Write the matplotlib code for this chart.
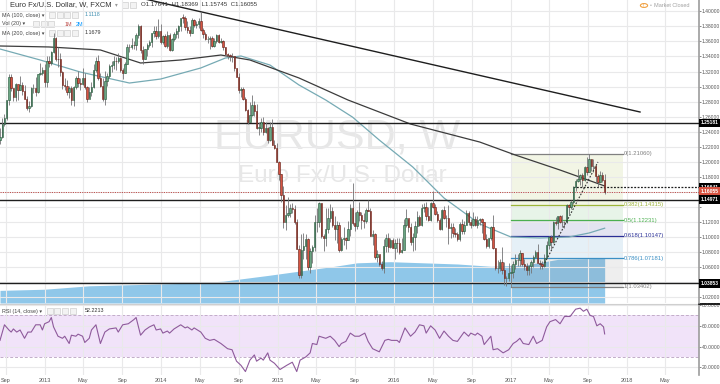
import numpy as np
import pandas as pd
import matplotlib
matplotlib.use("Agg")
import matplotlib.pyplot as plt
import matplotlib.dates as mdates
import matplotlib.transforms as mtransforms
from matplotlib.patches import Rectangle, Circle

W, H = 720, 384
plt.rcParams["font.family"] = ["Liberation Sans", "DejaVu Sans"]

# weekly EUR/USD candles (FXCM), first bar = week of 2012-08-13
first_open = 1.2290
closes = [
    # 2012
    1.2333, 1.2507, 1.2576, 1.2815, 1.3127, 1.2978, 1.2859, 1.3038, 1.2954, 1.3024, 1.2940,
    1.2832, 1.2713, 1.2742, 1.2975, 1.2985, 1.2929, 1.3163, 1.3183, 1.3215, 1.3067,
    # 2013
    1.3343, 1.3317, 1.3459, 1.3640, 1.3364, 1.3362, 1.3190, 1.3020, 1.3008, 1.2933, 1.2987, 1.2817,
    1.2993, 1.3112, 1.3053, 1.3030, 1.3114, 1.2990, 1.2837, 1.2933, 1.2998, 1.3220, 1.3345, 1.3120,
    1.3010, 1.2832, 1.3068, 1.3141, 1.3279, 1.3280, 1.3343, 1.3338, 1.3379, 1.3221, 1.3182, 1.3296,
    1.3524, 1.3522, 1.3555, 1.3552, 1.3685, 1.3804, 1.3486, 1.3365, 1.3494, 1.3555, 1.3589, 1.3707,
    1.3741, 1.3672, 1.3742, 1.3589,
    # 2014
    1.3666, 1.3539, 1.3679, 1.3486, 1.3633, 1.3692, 1.3740, 1.3806, 1.3914, 1.3913, 1.3790, 1.3751,
    1.3705, 1.3888, 1.3813, 1.3831, 1.3870, 1.3754, 1.3700, 1.3630, 1.3633, 1.3640, 1.3544, 1.3607,
    1.3690, 1.3594, 1.3605, 1.3523, 1.3428, 1.3414, 1.3411, 1.3400, 1.3241, 1.3131, 1.2952, 1.2964,
    1.2831, 1.2685, 1.2523, 1.2627, 1.2761, 1.2670, 1.2452, 1.2454, 1.2525, 1.2392, 1.2451, 1.2288,
    1.2464, 1.2227, 1.2180, 1.2002,
    # 2015
    1.1842, 1.1565, 1.1204, 1.1290, 1.1317, 1.1387, 1.1377, 1.1194, 1.0843, 1.0496, 1.0822, 1.0888,
    1.0970, 1.0600, 1.0809, 1.0873, 1.1199, 1.1200, 1.1447, 1.1016, 1.0985, 1.1110, 1.1260, 1.1349,
    1.1164, 1.1108, 1.1159, 1.0826, 1.0979, 1.0983, 1.0965, 1.1104, 1.1386, 1.1185, 1.1150, 1.1337,
    1.1293, 1.1230, 1.1210, 1.1356, 1.1350, 1.1015, 1.1045, 1.0740, 1.0770, 1.0646, 1.0593, 1.0886,
    1.0990, 1.0868, 1.0963, 1.0860,
    # 2016
    1.0920, 1.0915, 1.0797, 1.0831, 1.1155, 1.1256, 1.1130, 1.0933, 1.1005, 1.1152, 1.1268, 1.1166,
    1.1390, 1.1400, 1.1286, 1.1223, 1.1453, 1.1405, 1.1310, 1.1222, 1.1113, 1.1365, 1.1250, 1.1258,
    1.1114, 1.1135, 1.1050, 1.1040, 1.0978, 1.1175, 1.1087, 1.1160, 1.1325, 1.1200, 1.1155, 1.1235,
    1.1155, 1.1225, 1.1240, 1.1200, 1.0970, 1.0885, 1.0985, 1.1140, 1.0850, 1.0588, 1.0590, 1.0665,
    1.0560, 1.0450, 1.0455, 1.0520,
    # 2017
    1.0530, 1.0640, 1.0700, 1.0695, 1.0785, 1.0640, 1.0615, 1.0560, 1.0620, 1.0670, 1.0740, 1.0800,
    1.0655, 1.0640, 1.0615, 1.0725, 1.0895, 1.0995, 1.0935, 1.1205, 1.1185, 1.1280, 1.1200, 1.1200,
    1.1195, 1.1425, 1.1400, 1.1470, 1.1665, 1.1750, 1.1775, 1.1820, 1.1760, 1.1925, 1.1860, 1.2035,
    1.1945, 1.1950, 1.1815, 1.1730, 1.1820, 1.1764, 1.16055,
]
highs = [
    1.2443, 1.2588, 1.2636, 1.2823, 1.3169, 1.3173, 1.2980, 1.3046, 1.3014, 1.3138, 1.3061,
    1.3022, 1.2877, 1.2810, 1.2990, 1.3029, 1.3127, 1.3166, 1.3308, 1.3255, 1.3298,
    1.3404, 1.3405, 1.3479, 1.3711, 1.3652, 1.3523, 1.3440, 1.3210, 1.3114, 1.3093, 1.3002, 1.3010,
    1.3002, 1.3144, 1.3202, 1.3108, 1.3243, 1.3176, 1.3002, 1.2998, 1.3062, 1.3306, 1.3390, 1.3418,
    1.3185, 1.3117, 1.3208, 1.3176, 1.3298, 1.3345, 1.3401, 1.3392, 1.3452, 1.3394, 1.3246, 1.3326,
    1.3569, 1.3568, 1.3646, 1.3610, 1.3705, 1.3832, 1.3813, 1.3543, 1.3500, 1.3578, 1.3621, 1.3710,
    1.3810, 1.3811, 1.3893, 1.3829,
    1.3687, 1.3701, 1.3740, 1.3710, 1.3645, 1.3719, 1.3774, 1.3824, 1.3915, 1.3967, 1.3932, 1.3876,
    1.3810, 1.3905, 1.3899, 1.3874, 1.3907, 1.3993, 1.3777, 1.3730, 1.3675, 1.3677, 1.3677, 1.3644,
    1.3702, 1.3700, 1.3649, 1.3615, 1.3531, 1.3445, 1.3437, 1.3447, 1.3409, 1.3245, 1.3174, 1.2994,
    1.2996, 1.2859, 1.2705, 1.2791, 1.2887, 1.2802, 1.2770, 1.2535, 1.2577, 1.2601, 1.2532, 1.2457,
    1.2531, 1.2570, 1.2287, 1.2250,
    1.2010, 1.1843, 1.1680, 1.1423, 1.1534, 1.1443, 1.1449, 1.1428, 1.1240, 1.0890, 1.1043, 1.1052,
    1.1036, 1.0986, 1.0849, 1.0898, 1.1290, 1.1392, 1.1467, 1.1447, 1.1042, 1.1380, 1.1386, 1.1436,
    1.1400, 1.1278, 1.1215, 1.1200, 1.0999, 1.1128, 1.1000, 1.1215, 1.1440, 1.1714, 1.1332, 1.1355,
    1.1460, 1.1330, 1.1318, 1.1387, 1.1495, 1.1385, 1.1096, 1.1060, 1.0830, 1.0761, 1.0686, 1.0981,
    1.1043, 1.1059, 1.0990, 1.0993,
    1.0970, 1.0994, 1.0985, 1.0983, 1.1245, 1.1376, 1.1243, 1.1186, 1.1058, 1.1218, 1.1342, 1.1300,
    1.1438, 1.1453, 1.1464, 1.1398, 1.1463, 1.1616, 1.1445, 1.1350, 1.1250, 1.1375, 1.1416, 1.1298,
    1.1427, 1.1186, 1.1187, 1.1120, 1.1070, 1.1199, 1.1234, 1.1213, 1.1366, 1.1341, 1.1240, 1.1327,
    1.1286, 1.1283, 1.1260, 1.1260, 1.1205, 1.1040, 1.0990, 1.1145, 1.1300, 1.0860, 1.0690, 1.0710,
    1.0873, 1.0670, 1.0480, 1.0652,
    1.0625, 1.0684, 1.0775, 1.0777, 1.0829, 1.0789, 1.0705, 1.0660, 1.0625, 1.0700, 1.0760, 1.0830,
    1.0906, 1.0690, 1.0680, 1.0778, 1.0950, 1.1020, 1.1024, 1.1210, 1.1268, 1.1285, 1.1296, 1.1296,
    1.1220, 1.1445, 1.1445, 1.1490, 1.1680, 1.1776, 1.1910, 1.1840, 1.1850, 1.1940, 1.2070, 1.2106,
    1.2036, 1.2035, 1.1960, 1.1834, 1.1880, 1.1860, 1.18369,
]
lows = [
    1.2240, 1.2322, 1.2481, 1.2550, 1.2755, 1.2936, 1.2802, 1.2814, 1.2828, 1.2950, 1.2883,
    1.2830, 1.2690, 1.2660, 1.2735, 1.2915, 1.2877, 1.2915, 1.3155, 1.3158, 1.2998,
    1.3000, 1.3256, 1.3280, 1.3447, 1.3345, 1.3265, 1.3145, 1.2968, 1.2955, 1.2882, 1.2842, 1.2750,
    1.2745, 1.2963, 1.2996, 1.2955, 1.3020, 1.2963, 1.2797, 1.2845, 1.2868, 1.2986, 1.3200, 1.3085,
    1.2992, 1.2810, 1.2755, 1.3007, 1.3120, 1.3188, 1.3230, 1.3224, 1.3311, 1.3197, 1.3105, 1.3177,
    1.3297, 1.3465, 1.3499, 1.3496, 1.3486, 1.3646, 1.3444, 1.3296, 1.3369, 1.3400, 1.3526, 1.3528,
    1.3664, 1.3626, 1.3651, 1.3572,
    1.3572, 1.3524, 1.3507, 1.3478, 1.3477, 1.3600, 1.3642, 1.3641, 1.3736, 1.3838, 1.3751, 1.3705,
    1.3673, 1.3706, 1.3791, 1.3775, 1.3772, 1.3742, 1.3647, 1.3616, 1.3585, 1.3503, 1.3522, 1.3524,
    1.3585, 1.3585, 1.3578, 1.3480, 1.3421, 1.3366, 1.3333, 1.3332, 1.3212, 1.3130, 1.2919, 1.2859,
    1.2815, 1.2680, 1.2500, 1.2601, 1.2611, 1.2614, 1.2440, 1.2358, 1.2395, 1.2358, 1.2385, 1.2247,
    1.2271, 1.2220, 1.2165, 1.2000,
    1.1754, 1.1460, 1.1114, 1.1098, 1.1270, 1.1261, 1.1316, 1.1175, 1.0838, 1.0462, 1.0462, 1.0713,
    1.0712, 1.0564, 1.0520, 1.0659, 1.0820, 1.1063, 1.1135, 1.0990, 1.0819, 1.0887, 1.1049, 1.1206,
    1.1133, 1.0955, 1.0916, 1.0808, 1.0809, 1.0898, 1.0848, 1.0955, 1.1017, 1.1158, 1.1087, 1.1103,
    1.1208, 1.1105, 1.1122, 1.1188, 1.1340, 1.1008, 1.0896, 1.0705, 1.0674, 1.0617, 1.0557, 1.0524,
    1.0796, 1.0805, 1.0850, 1.0854,
    1.0711, 1.0804, 1.0778, 1.0790, 1.0831, 1.1136, 1.1067, 1.0896, 1.0810, 1.0822, 1.1056, 1.1143,
    1.1144, 1.1327, 1.1233, 1.1216, 1.1218, 1.1383, 1.1290, 1.1196, 1.1097, 1.1098, 1.1238, 1.1131,
    1.0912, 1.0987, 1.0998, 1.1001, 1.0952, 1.0952, 1.1045, 1.1043, 1.1155, 1.1160, 1.1122, 1.1146,
    1.1145, 1.1124, 1.1160, 1.1050, 1.0966, 1.0860, 1.0850, 1.0960, 1.0840, 1.0569, 1.0518, 1.0548,
    1.0505, 1.0366, 1.0352, 1.0420,
    1.0340, 1.0453, 1.0579, 1.0622, 1.0618, 1.0620, 1.0567, 1.0494, 1.0494, 1.0525, 1.0600, 1.0730,
    1.0650, 1.0570, 1.0570, 1.0600, 1.0720, 1.0840, 1.0838, 1.0920, 1.1160, 1.1110, 1.1190, 1.1130,
    1.1120, 1.1190, 1.1312, 1.1370, 1.1440, 1.1612, 1.1730, 1.1688, 1.1660, 1.1740, 1.1823, 1.1860,
    1.1880, 1.1860, 1.1717, 1.1669, 1.1730, 1.1730, 1.15745,
]

# moving averages (week index, price)
ma100_weeks = [0, 18, 36, 58, 72, 90, 101, 108, 121, 134, 146, 158, 170, 185, 199, 215, 229, 242, 255, 264, 271]
ma100_vals = [1.3499, 1.3353, 1.3193, 1.3047, 1.3100, 1.3247, 1.3379, 1.3406, 1.3286, 1.3021, 1.2821,
              1.2594, 1.2289, 1.1931, 1.1519, 1.1174, 1.1001, 1.0988, 1.1001, 1.1054, 1.1118]
ma200_weeks = [0, 22, 45, 63, 81, 99, 112, 134, 156, 184, 215, 231, 251, 271]
ma200_vals = [1.3539, 1.3526, 1.3486, 1.3313, 1.3353, 1.3419, 1.3353, 1.3114, 1.2821, 1.2502, 1.2263,
              1.2090, 1.1891, 1.1679]

# volume moving average (millions)
vol_ma_weeks = [0, 20, 40, 60, 80, 100, 120, 135, 150, 160, 175, 190, 205, 220, 235, 250, 271]
vol_ma_vals = [0.55, 0.6, 0.75, 0.8, 0.85, 0.95, 1.2, 1.4, 1.6, 1.75, 1.8, 1.75, 1.7, 1.6, 1.65, 1.9, 1.95]

# RSI(14)
rsi_weeks = [0, 2, 4, 5, 6, 7.5, 9, 11, 12.5, 14,
             16, 18, 19, 20, 22, 23, 24, 26, 28, 29,
             31, 32, 34, 35, 37, 38, 40, 41, 43, 45,
             47, 49, 52, 53, 55, 57.5, 60, 61, 63, 65,
             67, 69, 70, 72, 73, 75, 76, 78, 81, 83,
             84, 86, 87, 90, 92, 94, 96, 99, 102, 104,
             106, 108, 110, 112, 114, 115, 117, 118, 120, 121,
             123, 125.5, 128.5, 131, 133, 134.5, 137, 139, 140, 142,
             143, 146, 148, 150, 152, 153, 155, 157, 159, 161,
             163.5, 165, 167, 170, 172.5, 174, 175.5, 178, 179, 181.5,
             184, 186, 188, 190, 191, 193, 195, 197, 199, 201,
             203, 205, 207, 208, 210, 211, 213, 214, 216, 217,
             220, 221, 223, 225.5, 228, 230, 231.5, 233, 234.5, 237,
             239, 240.5, 243, 245, 246.5, 249, 251, 253, 255.5, 258,
             260, 261.5, 263, 264.5, 266, 267.5, 269, 270.5, 271]
rsi_vals = [46, 61, 56, 54, 57, 54, 56, 48, 54, 54,
            61, 61, 56, 62, 64, 68, 59, 50, 48, 50,
            43, 51, 50, 52, 50, 44, 48, 56, 61, 43,
            54, 57, 58, 54, 61, 62, 66, 68, 51, 56,
            59, 61, 56, 57, 53, 55, 53, 57, 61, 58,
            59, 56, 58, 54, 48, 46, 47, 43, 38, 37,
            26, 22, 16, 27, 32, 26, 29, 27, 34, 27,
            24, 18, 22, 25, 16, 27, 30, 34, 43, 42,
            50, 48, 50, 46, 40, 43, 45, 53, 50, 50,
            53, 45, 38, 35, 46, 47, 46, 46, 44, 58,
            50, 54, 61, 60, 53, 60, 56, 48, 55, 50,
            46, 45, 51, 54, 50, 53, 51, 53, 50, 42,
            50, 37, 38, 34, 37, 43, 45, 48, 43, 42,
            50, 43, 46, 59, 64, 66, 62, 69, 69, 76,
            77, 74, 76, 70, 69, 60, 62, 59, 52.2]

# drawings
fib_levels = [0, 0.382, 0.5, 0.618, 0.786, 1]
fib_prices = [1.21060, 1.14315, 1.12231, 1.10147, 1.07181, 1.03402]
fib_colors = ["#808080", "#9db43a", "#4caf50", "#2a2f96", "#3b8fc4", "#808080"]
fib_span = ["2017-01-02", "2017-12-18"]
trend_dates = ["2013-11-17", "2018-02-11"]
trend_prices = [1.4157, 1.2662]
rally_dates = ["2017-04-18", "2017-10-02"]
rally_prices = [1.0656, 1.1998]
hlines = [1.25181, 1.14971, 1.03853]
dotted_level = 1.16641
dotted_from = "2017-07-17"
last_price = 1.16055

dates = pd.date_range("2012-08-13", periods=len(closes), freq="7D")
opens = [first_open] + closes[:-1]
xd = mdates.date2num(dates)
x_left = mdates.date2num(pd.Timestamp("2012-08-13"))
x_right = x_left + 2193

def wk(weeks):
    return mdates.date2num(dates[0] + pd.to_timedelta(np.asarray(weeks, dtype=float) * 7, unit="D"))

fig = plt.figure(figsize=(W / 100, H / 100), dpi=100)
fig.patch.set_facecolor("white")
ax = fig.add_axes([0, 1 - 303 / H, 699 / W, 303 / H])
ax_rsi = fig.add_axes([0, (H - 375) / H, 699 / W, 71 / H])
ax_vol = ax.twinx()
ax.set_zorder(2)
ax.patch.set_visible(False)
ax_vol.set_zorder(1)

grid_c = "#e9e9ea"
for a in (ax, ax_rsi):
    a.set_xlim(x_left, x_right)
    for s in ["top", "left", "bottom"]:
        a.spines[s].set_visible(False)
    a.spines["right"].set_color("#9c9c9c")
    a.spines["right"].set_linewidth(1.2)
    a.yaxis.tick_right()
    a.tick_params(axis="y", labelsize=3.6, colors="#555555", length=1.5, width=0.5, pad=0.6)
    a.set_axisbelow(True)

# x ticks: Jan / May / Sep
tick_dates = pd.date_range("2012-09-01", "2018-05-01", freq="4MS")
tick_lbls = [str(d.year) if d.month == 1 else d.strftime("%b") for d in tick_dates]
for a in (ax, ax_rsi):
    a.set_xticks(mdates.date2num(tick_dates))
    a.grid(axis="x", color=grid_c, lw=0.8)
ax.set_xticklabels([])
ax.tick_params(axis="x", length=0)
ax_rsi.set_xticklabels(tick_lbls)
ax_rsi.tick_params(axis="x", length=0, labelsize=4, colors="#555555", pad=2.5)

# price axis
ax.set_ylim(1.01241, 1.41501)
pt = np.round(np.arange(1.02, 1.4001, 0.02), 2)
ax.set_yticks(pt)
ax.set_yticklabels(["" if p in (1.04, 1.14, 1.16) else f"{p:.5f}" for p in pt])
ax.grid(axis="y", color=grid_c, lw=0.8)

# volume MA area
ax_vol.set_ylim(0, 13.2)
ax_vol.set_xlim(x_left, x_right)
ax_vol.set_axis_off()
ax_vol.fill_between(wk(vol_ma_weeks), 0, vol_ma_vals, color="#8fc7e9", lw=0)

# fib retracement zones
fx = mdates.date2num(pd.to_datetime(fib_span))
for i in range(len(fib_prices) - 1):
    ax.fill_between(fx, fib_prices[i + 1], fib_prices[i], color=fib_colors[i + 1], alpha=0.13, lw=0, zorder=0.3)
for lv, p, c in zip(fib_levels, fib_prices, fib_colors):
    ax.plot(fx, [p, p], color=c, lw=0.9, zorder=2)
    ax.text(fx[1] + 3, p, f"{lv:g}({p:.5f})", color=c, fontsize=4.2, va="center", ha="left", zorder=6)
ax.plot(mdates.date2num(pd.to_datetime(rally_dates)), rally_prices, color="#333333", lw=0.8,
        ls=(0, (1.5, 1.5)), zorder=5)

# moving averages
ax.plot(wk(ma100_weeks), ma100_vals, color="#76aab4", lw=0.9, zorder=2.5)
ax.plot(wk(ma200_weeks), ma200_vals, color="#3c3c3c", lw=0.9, zorder=2.5)

# horizontal levels and trendline
for p in hlines:
    ax.axhline(p, color="#1e1e1e", lw=1.0, zorder=2.6)
ax.plot([mdates.date2num(pd.Timestamp(dotted_from)), x_right], [dotted_level] * 2, color="#1e1e1e",
        lw=0.9, ls=(0, (1.5, 1.2)), zorder=2.6)
ax.axhline(last_price, color="#c0504d", lw=0.7, ls=(0, (1.2, 1.2)), zorder=2.6)
ax.plot(mdates.date2num(pd.to_datetime(trend_dates)), trend_prices, color="#1e1e1e", lw=1.0, zorder=2.6)

# candles
up_body, dn_body = "#6ba583", "#d75442"
up_edge, dn_edge = "#225437", "#5b1a13"
ax.vlines(xd, lows, highs, color="#737375", lw=0.6, zorder=3)
o = np.array(opens)
c = np.array(closes)
is_up = c >= o
bottoms = np.minimum(o, c)
heights = np.maximum(np.abs(c - o), 0.0006)
ax.bar(xd, heights, bottom=bottoms, width=4.4, color=np.where(is_up, up_body, dn_body),
       edgecolor=np.where(is_up, up_edge, dn_edge), lw=0.4, zorder=4)

# watermark
ax.text(0.483, 0.545, "EURUSD, W", transform=ax.transAxes, fontsize=31, color="#e7e7e7",
        ha="center", va="center", zorder=0.2)
ax.text(0.49, 0.42, "Euro Fx/U.S. Dollar", transform=ax.transAxes, fontsize=17.5, color="#e7e7e7",
        ha="center", va="center", zorder=0.2)

# price axis badges
btrans = mtransforms.blended_transform_factory(ax.transAxes, ax.transData)
def badge(p, label, fc):
    ax.text(1.0025, p, label, transform=btrans, fontsize=3.6, color="white", fontweight="bold",
            ha="left", va="center", clip_on=False, zorder=10,
            bbox=dict(boxstyle="square,pad=0.35", fc=fc, ec="none"))
badge(1.25181, "1.25181", "#000000")
badge(dotted_level, "1.16641", "#000000")
badge(last_price, "1.16055", "#d75442")
badge(1.14971, "1.14971", "#000000")
badge(1.03853, "1.03853", "#000000")

# RSI pane
ax_rsi.set_ylim(12.7, 81)
ax_rsi.set_yticks([20, 40, 60, 80])
ax_rsi.set_yticklabels([f"{v:.4f}" for v in (20, 40, 60, 80)])
ax_rsi.grid(axis="y", color=grid_c, lw=0.8)
ax_rsi.axhspan(30, 70, color="#f1e3f9", lw=0, zorder=0.3)
for lv in (30, 70):
    ax_rsi.axhline(lv, color="#c2adc9", lw=0.7, ls=(0, (3, 2)), zorder=0.4)
ax_rsi.plot(wk(rsi_weeks), rsi_vals, color="#8e5a9b", lw=0.8, zorder=3)
fig.add_artist(plt.Line2D([0, 1], [1 - 303.8 / H] * 2, color="#cfcfcf", lw=0.8))
fig.add_artist(plt.Line2D([699 / W, 1], [1 - 304 / H] * 2, color="#000000", lw=1.2))

# header / legends
def ftxt(xp, yp, s, **kw):
    fig.text(xp / W, 1 - yp / H, s, va="center", ha="left", **kw)

def boxes(xp, yp, n):
    for i in range(n):
        fig.add_artist(Rectangle(((xp + i * 7.5) / W, 1 - (yp + 3) / H), 6 / W, 6 / H,
                                 transform=fig.transFigure, fc="#f3f3f3", ec="#cfcfcf", lw=0.5))

ftxt(10, 5, "Euro Fx/U.S. Dollar, W, FXCM", fontsize=5.4, color="#333333")
ftxt(115, 5, "\u25be", fontsize=4, color="#999999")
boxes(122, 5, 2)
ftxt(141, 5, "O1.17641  H1.18369  L1.15745  C1.16055", fontsize=4.4, color="#333333")
ftxt(2, 15, "MA (100, close) \u25be", fontsize=3.9, color="#444444")
boxes(49, 15, 4)
ftxt(85, 15, "1.1118", fontsize=3.9, color="#3f8fb0")
ftxt(2, 24, "Vol (20) \u25be", fontsize=3.9, color="#444444")
boxes(33, 24, 3)
ftxt(65, 24, "1M", fontsize=3.9, color="#c0504d")
ftxt(76, 24, "2M", fontsize=3.9, color="#0496ff")
ftxt(2, 33, "MA (200, close) \u25be", fontsize=3.9, color="#444444")
boxes(49, 33, 4)
ftxt(85, 33, "1.1679", fontsize=3.9, color="#333333")
ftxt(2, 311, "RSI (14, close) \u25be", fontsize=3.9, color="#444444")
boxes(47, 311, 4)
ftxt(85, 311, "52.2213", fontsize=3.9, color="#333333")

fig.add_artist(Circle((644 / W, 1 - 5.5 / H), 3.6 / W, transform=fig.transFigure, fc="white",
                      ec="#f0a040", lw=0.8))
ftxt(642.8, 5.5, "!", fontsize=3.8, color="#f0a040")
ftxt(650, 5.5, "\u2022", fontsize=3.6, color="#aaaaaa")
ftxt(654, 5.5, "Market Closed", fontsize=4, color="#a0a0a0")

fig.savefig("out.png", dpi=100, facecolor="white")
